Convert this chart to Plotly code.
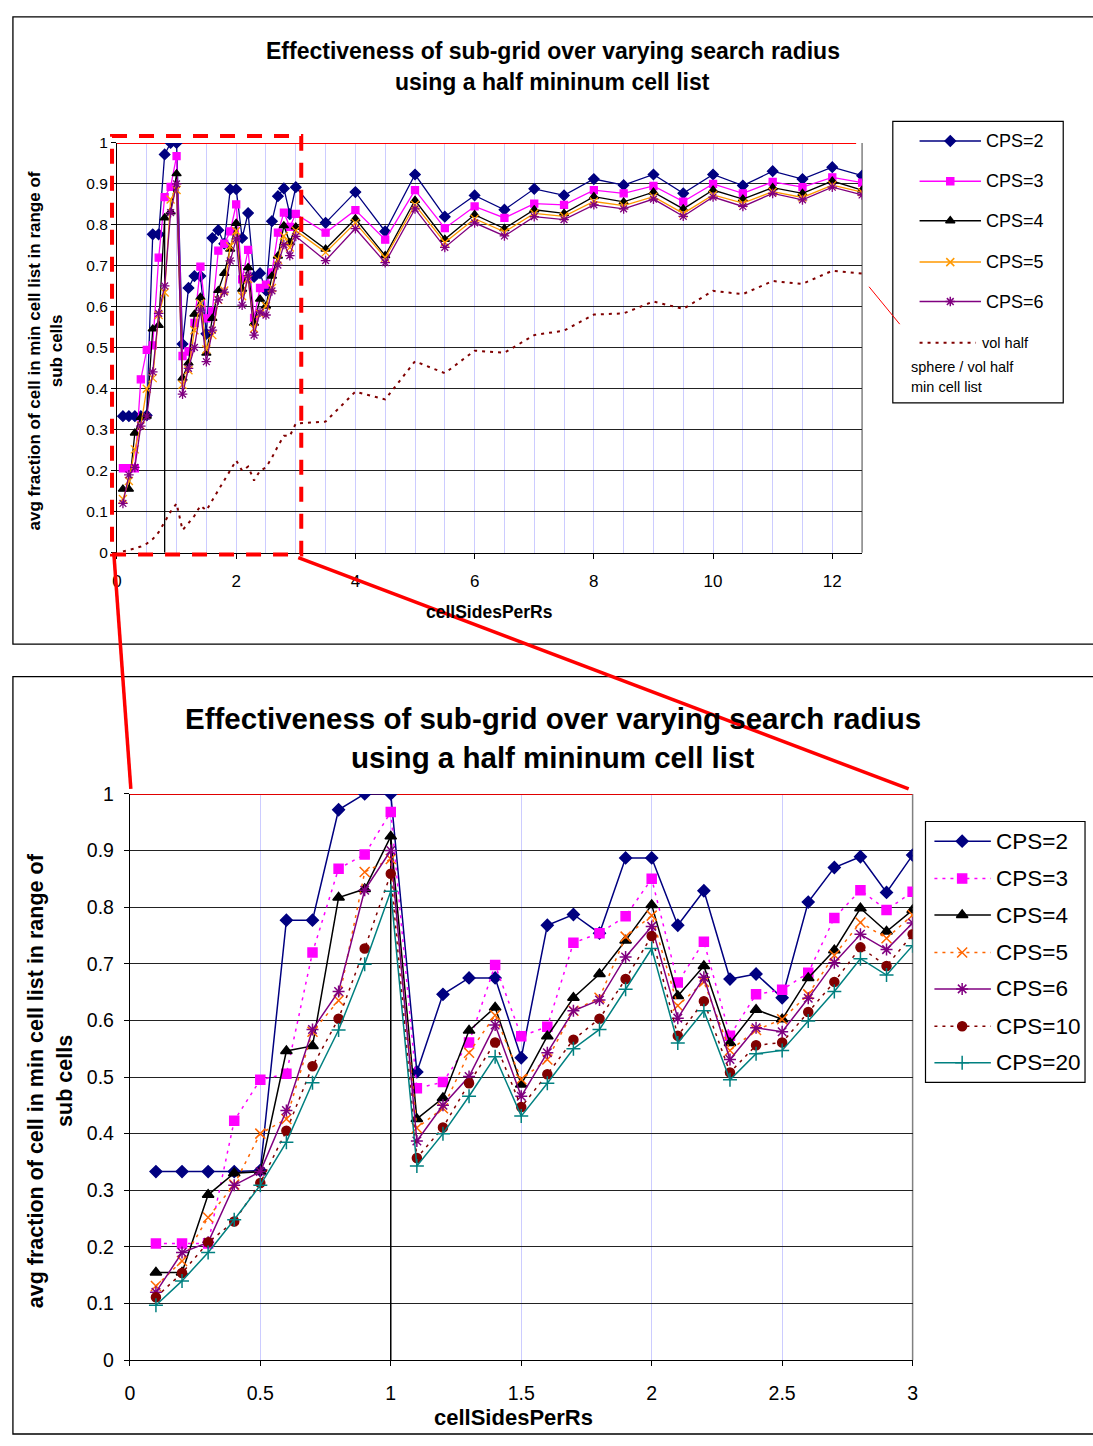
import plotly.graph_objects as go

W, H = 1093, 1446

# ---------------- data ----------------
x_fine = [0.1, 0.2, 0.3, 0.4, 0.5, 0.6, 0.7, 0.8, 0.9, 1.0,
          1.1, 1.2, 1.3, 1.4, 1.5, 1.6, 1.7, 1.8, 1.9, 2.0,
          2.1, 2.2, 2.3, 2.4, 2.5, 2.6, 2.7, 2.8, 2.9, 3.0]
x_coarse = [3.5, 4.0, 4.5, 5.0, 5.5, 6.0, 6.5, 7.0, 7.5, 8.0,
            8.5, 9.0, 9.5, 10.0, 10.5, 11.0, 11.5, 12.0, 12.5]

cps2_fine = [0.333, 0.333, 0.333, 0.333, 0.335, 0.777, 0.777, 0.972, 1.0, 1.0,
             0.509, 0.646, 0.675, 0.675, 0.534, 0.768, 0.787, 0.754, 0.887, 0.887,
             0.768, 0.829, 0.673, 0.682, 0.640, 0.809, 0.870, 0.889, 0.826, 0.892]
cps3_fine = [0.206, 0.206, 0.206, 0.423, 0.495, 0.506, 0.720, 0.868, 0.893, 0.968,
             0.480, 0.491, 0.561, 0.698, 0.572, 0.589, 0.737, 0.754, 0.784, 0.850,
             0.667, 0.739, 0.573, 0.646, 0.654, 0.684, 0.781, 0.830, 0.795, 0.827]
cps4_fine = [0.155, 0.155, 0.292, 0.330, 0.333, 0.546, 0.555, 0.817, 0.832, 0.925,
             0.426, 0.463, 0.582, 0.623, 0.487, 0.572, 0.640, 0.682, 0.741, 0.804,
             0.643, 0.696, 0.560, 0.619, 0.602, 0.675, 0.724, 0.798, 0.757, 0.795]
cps5_fine = [0.131, 0.175, 0.252, 0.310, 0.400, 0.426, 0.580, 0.635, 0.862, 0.885,
             0.410, 0.445, 0.543, 0.609, 0.496, 0.531, 0.617, 0.640, 0.748, 0.785,
             0.626, 0.668, 0.547, 0.583, 0.602, 0.646, 0.715, 0.773, 0.745, 0.786]
cps6_fine = [0.120, 0.190, 0.208, 0.309, 0.333, 0.441, 0.584, 0.651, 0.830, 0.900,
             0.387, 0.450, 0.501, 0.592, 0.466, 0.543, 0.617, 0.636, 0.712, 0.766,
             0.604, 0.676, 0.531, 0.587, 0.580, 0.639, 0.702, 0.752, 0.725, 0.772]
cps10_fine = [0.111, 0.154, 0.208, 0.245, 0.313, 0.405, 0.519, 0.603, 0.727, 0.859,
              0.357, 0.411, 0.489, 0.561, 0.447, 0.505, 0.566, 0.603, 0.673, 0.749,
              0.573, 0.634, 0.508, 0.556, 0.561, 0.615, 0.668, 0.729, 0.696, 0.752]
cps20_fine = [0.097, 0.140, 0.190, 0.248, 0.309, 0.385, 0.490, 0.583, 0.699, 0.828,
              0.343, 0.400, 0.466, 0.536, 0.431, 0.489, 0.550, 0.584, 0.655, 0.727,
              0.560, 0.617, 0.495, 0.541, 0.547, 0.599, 0.651, 0.709, 0.680, 0.732]

cps2_coarse = [0.805, 0.880, 0.784, 0.923, 0.820, 0.872, 0.837, 0.888, 0.872, 0.912,
               0.897, 0.923, 0.877, 0.923, 0.896, 0.931, 0.912, 0.941, 0.920]
cps3_coarse = [0.781, 0.836, 0.764, 0.885, 0.792, 0.845, 0.817, 0.852, 0.849, 0.885,
               0.877, 0.895, 0.857, 0.900, 0.877, 0.905, 0.892, 0.916, 0.903]
cps4_coarse = [0.741, 0.815, 0.725, 0.860, 0.765, 0.825, 0.791, 0.837, 0.828, 0.869,
               0.856, 0.880, 0.839, 0.885, 0.863, 0.891, 0.877, 0.907, 0.885]
cps5_coarse = [0.733, 0.805, 0.720, 0.849, 0.757, 0.815, 0.783, 0.828, 0.821, 0.857,
               0.847, 0.869, 0.828, 0.873, 0.853, 0.881, 0.867, 0.897, 0.880]
cps6_coarse = [0.713, 0.791, 0.708, 0.839, 0.745, 0.805, 0.773, 0.820, 0.813, 0.849,
               0.839, 0.863, 0.821, 0.868, 0.845, 0.877, 0.861, 0.892, 0.873]

vol_fine = [0.003, 0.006, 0.010, 0.015, 0.022, 0.033, 0.050, 0.075, 0.100, 0.120,
            0.055, 0.072, 0.090, 0.115, 0.103, 0.128, 0.152, 0.175, 0.198, 0.225,
            0.200, 0.210, 0.176, 0.200, 0.208, 0.232, 0.260, 0.285, 0.285, 0.315]
vol_coarse = [0.320, 0.393, 0.374, 0.467, 0.438, 0.493, 0.488, 0.531, 0.542, 0.581,
              0.584, 0.613, 0.595, 0.639, 0.631, 0.663, 0.656, 0.688, 0.681]

top_labels = ["CPS=2", "CPS=3", "CPS=4", "CPS=5", "CPS=6"]
bottom_labels = ["CPS=2", "CPS=3", "CPS=4", "CPS=5", "CPS=6", "CPS=10", "CPS=20"]
vol_label = "vol half"
vol_label_rest = ["sphere / vol half", "min cell list"]
title_lines = ["Effectiveness of sub-grid over varying search radius",
               "using a half mininum cell list"]
x_title = "cellSidesPerRs"
y_title_lines = ["avg fraction of cell in min cell list in range of", "sub cells"]
top_xticks = [0, 2, 4, 6, 8, 10, 12]

# ---------------- styles ----------------
FONT = "Arial, 'Liberation Sans', sans-serif"
top_styles = [
    dict(color="#000080", symbol="diamond", size=8, dash="solid"),
    dict(color="#FF00FF", symbol="square", size=7, dash="solid"),
    dict(color="#000000", symbol="triangle-up", size=8, dash="solid"),
    dict(color="#FF9900", symbol="x-thin-open", size=8, dash="solid"),
    dict(color="#800080", symbol="asterisk-open", size=8, dash="solid"),
]
bottom_styles = [
    dict(color="#000080", symbol="diamond", size=9, dash="solid"),
    dict(color="#FF00FF", symbol="square", size=9, dash="dot"),
    dict(color="#000000", symbol="triangle-up", size=10, dash="solid"),
    dict(color="#FF6600", symbol="x-thin-open", size=10, dash="dot"),
    dict(color="#800080", symbol="asterisk-open", size=10, dash="solid"),
    dict(color="#800000", symbol="circle", size=9, dash="dot"),
    dict(color="#008080", symbol="cross-thin-open", size=10, dash="solid"),
]


def PX(x):
    return x / W


def PY(y):
    return 1 - y / H


def mk(st, lw=1.5):
    return dict(symbol=st["symbol"], size=st["size"], color=st["color"],
                line=dict(color=st["color"], width=lw))


def dash_of(st):
    return "3px,5px" if st["dash"] == "dot" else "solid"


fig = go.Figure()

# ---------------- top chart ----------------
top_fine = [cps2_fine, cps3_fine, cps4_fine, cps5_fine, cps6_fine]
top_coarse = [cps2_coarse, cps3_coarse, cps4_coarse, cps5_coarse, cps6_coarse]
x_top = x_fine + x_coarse
for lab, f, c, st in zip(top_labels, top_fine, top_coarse, top_styles):
    fig.add_trace(go.Scatter(x=x_top, y=f + c, mode="lines+markers", name=lab,
                             line=dict(color=st["color"], width=1.3),
                             marker=mk(st, 1.3), xaxis="x", yaxis="y", showlegend=False))
fig.add_trace(go.Scatter(x=x_top, y=vol_fine + vol_coarse, mode="lines", name=vol_label,
                         line=dict(color="#800000", width=2, dash="3px,5px"),
                         xaxis="x", yaxis="y", showlegend=False))

# ---------------- bottom chart ----------------
bottom_series = [cps2_fine, cps3_fine, cps4_fine, cps5_fine, cps6_fine, cps10_fine, cps20_fine]
for lab, ys, st in zip(bottom_labels, bottom_series, bottom_styles):
    fig.add_trace(go.Scatter(x=x_fine, y=ys, mode="lines+markers", name=lab,
                             line=dict(color=st["color"], width=1.5, dash=dash_of(st)),
                             marker=mk(st, 1.5), xaxis="x2", yaxis="y2", showlegend=False))

# ---------------- legends (drawn in a pixel overlay) ----------------
top_leg_rows = [132, 173, 213, 255, 295]
for lab, st, ry in zip(top_labels, top_styles, top_leg_rows):
    fig.add_trace(go.Scatter(x=[923, 985], y=[ry, ry], mode="lines",
                             line=dict(color=st["color"], width=1.5),
                             xaxis="x3", yaxis="y3", showlegend=False, hoverinfo="skip"))
    fig.add_trace(go.Scatter(x=[954], y=[ry], mode="markers", marker=mk(st, 1.5),
                             xaxis="x3", yaxis="y3", showlegend=False, hoverinfo="skip"))
fig.add_trace(go.Scatter(x=[923, 980], y=[337, 337], mode="lines",
                         line=dict(color="#800000", width=2, dash="3px,5px"),
                         xaxis="x3", yaxis="y3", showlegend=False, hoverinfo="skip"))

bot_leg_rows = [843, 881, 918, 956, 993, 1031, 1068]
for lab, st, ry in zip(bottom_labels, bottom_styles, bot_leg_rows):
    fig.add_trace(go.Scatter(x=[938, 995], y=[ry, ry], mode="lines",
                             line=dict(color=st["color"], width=1.5, dash=dash_of(st)),
                             xaxis="x3", yaxis="y3", showlegend=False, hoverinfo="skip"))
    fig.add_trace(go.Scatter(x=[966], y=[ry], mode="markers", marker=mk(st, 1.5),
                             xaxis="x3", yaxis="y3", showlegend=False, hoverinfo="skip"))

annotations = []
for lab, ry in zip(top_labels, top_leg_rows):
    annotations.append(dict(x=PX(988), y=PY(ry), xref="paper", yref="paper", text=lab,
                            showarrow=False, xanchor="left", yanchor="middle",
                            font=dict(family=FONT, size=18, color="black")))
annotations.append(dict(x=PX(984), y=PY(337), xref="paper", yref="paper", text=vol_label,
                        showarrow=False, xanchor="left", yanchor="middle",
                        font=dict(family=FONT, size=14.5, color="black")))
for t, ry in zip(vol_label_rest, [361, 382]):
    annotations.append(dict(x=PX(912), y=PY(ry), xref="paper", yref="paper", text=t,
                            showarrow=False, xanchor="left", yanchor="middle",
                            font=dict(family=FONT, size=14.5, color="black")))
for lab, ry in zip(bottom_labels, bot_leg_rows):
    annotations.append(dict(x=PX(998), y=PY(ry), xref="paper", yref="paper", text=lab,
                            showarrow=False, xanchor="left", yanchor="middle",
                            font=dict(family=FONT, size=22.5, color="black")))

# titles
for t, ry in zip(title_lines, [41, 72]):
    annotations.append(dict(x=PX(553), y=PY(ry), xref="paper", yref="paper", text=t,
                            showarrow=False, xanchor="center", yanchor="middle",
                            font=dict(family=FONT, size=23, color="black", weight="bold")))
for t, ry in zip(title_lines, [718, 758]):
    annotations.append(dict(x=PX(553), y=PY(ry), xref="paper", yref="paper", text=t,
                            showarrow=False, xanchor="center", yanchor="middle",
                            font=dict(family=FONT, size=29.5, color="black", weight="bold")))
annotations.append(dict(x=PX(489), y=PY(610), xref="paper", yref="paper", text=x_title,
                        showarrow=False, xanchor="center", yanchor="middle",
                        font=dict(family=FONT, size=17.5, color="black", weight="bold")))
annotations.append(dict(x=PX(513), y=PY(1428), xref="paper", yref="paper", text=x_title,
                        showarrow=False, xanchor="center", yanchor="middle",
                        font=dict(family=FONT, size=22, color="black", weight="bold")))
for t, rx in zip(y_title_lines, [30, 52]):
    annotations.append(dict(x=PX(rx), y=PY(345), xref="paper", yref="paper", text=t,
                            showarrow=False, xanchor="center", yanchor="middle", textangle=-90,
                            font=dict(family=FONT, size=17, color="black", weight="bold")))
for t, rx in zip(y_title_lines, [32, 61]):
    annotations.append(dict(x=PX(rx), y=PY(1086), xref="paper", yref="paper", text=t,
                            showarrow=False, xanchor="center", yanchor="middle", textangle=-90,
                            font=dict(family=FONT, size=21.5, color="black", weight="bold")))

# ---------------- shapes ----------------
def pline(x0, y0, x1, y1, color, width, dash="solid", layer="above"):
    return dict(type="line", xref="paper", yref="paper", x0=PX(x0), y0=PY(y0), x1=PX(x1), y1=PY(y1),
                line=dict(color=color, width=width, dash=dash), layer=layer)


def prect(x0, y0, x1, y1, color, width, dash="solid"):
    return dict(type="rect", xref="paper", yref="paper", x0=PX(x0), y0=PY(y0), x1=PX(x1), y1=PY(y1),
                line=dict(color=color, width=width, dash=dash), fillcolor="rgba(0,0,0,0)", layer="above")


shapes = [
    prect(8, 6, 1110, 643, "black", 1.3),
    prect(8, 676, 1110, 1445, "black", 1.3),
    prect(896, 112, 1068, 398, "black", 1.2),
    prect(929, 823, 1090, 1088, "black", 1.2),
    # right borders of plot areas
    pline(865, 134, 865, 550, "#808080", 1.5, layer="between"),
    pline(916, 795, 916, 1370, "#808080", 1.5, layer="between"),
    # y = 1 reference lines
    dict(type="line", xref="x", yref="y", x0=0, x1=12.4, y0=1, y1=1,
         line=dict(color="red", width=2), layer="between"),
    dict(type="line", xref="x2", yref="y2", x0=0, x1=3, y0=1, y1=1,
         line=dict(color="#E00000", width=2), layer="between"),
    # stray vertical lines
    dict(type="line", xref="x", yref="y", x0=x_fine[7], x1=x_fine[7], y0=0, y1=cps4_fine[7],
         line=dict(color="black", width=1.3), layer="between"),
    dict(type="line", xref="x2", yref="y2", x0=x_fine[9], x1=x_fine[9], y0=0, y1=cps4_fine[9],
         line=dict(color="black", width=1.5), layer="between"),
    # zoom annotation
    prect(108, 127, 299, 552, "#FF0000", 4, dash="15px,12px"),
    pline(110, 553, 127, 790, "#FF0000", 3.5),
    pline(296, 555, 912, 790, "#FF0000", 3.5),
    pline(872, 280, 903, 318, "#FF0000", 1),
]

axis_common = dict(showline=True, linecolor="black", linewidth=1, ticks="outside", ticklen=5,
                   tickcolor="black", zeroline=False, fixedrange=True)

fig.update_layout(
    width=W, height=H, autosize=False,
    margin=dict(l=0, r=0, t=0, b=0),
    paper_bgcolor="white", plot_bgcolor="rgba(0,0,0,0)",
    showlegend=False,
    xaxis=dict(domain=[PX(113), PX(865)], range=[0, 12.5], anchor="y",
               tickmode="array", tickvals=top_xticks,
               showgrid=True, gridcolor="#ccccff", gridwidth=1,
               minor=dict(dtick=0.5, tick0=0, showgrid=True, gridcolor="#ccccff", gridwidth=1),
               tickfont=dict(family=FONT, size=17, color="black"), ticklabelstandoff=8,
               **axis_common),
    yaxis=dict(domain=[PY(550), PY(134)], range=[0, 1], anchor="x", dtick=0.1, tick0=0,
               showgrid=True, gridcolor="#222222", gridwidth=1,
               tickfont=dict(family=FONT, size=15.5, color="black"),
               **axis_common),
    xaxis2=dict(domain=[PX(126), PX(916)], range=[0, 3], anchor="y2", dtick=0.5, tick0=0,
                showgrid=True, gridcolor="#ccccff", gridwidth=1,
                tickfont=dict(family=FONT, size=19.5, color="black"), ticklabelstandoff=10,
                **axis_common),
    yaxis2=dict(domain=[PY(1370), PY(795)], range=[0, 1], anchor="x2", dtick=0.1, tick0=0,
                showgrid=True, gridcolor="#222222", gridwidth=1,
                tickfont=dict(family=FONT, size=19.5, color="black"), ticklabelstandoff=6,
                **axis_common),
    xaxis3=dict(domain=[0, 1], range=[0, W], anchor="y3", visible=False, fixedrange=True),
    yaxis3=dict(domain=[0, 1], range=[H, 0], anchor="x3", visible=False, fixedrange=True),
    annotations=annotations,
    shapes=shapes,
)

fig.write_html("out.html", post_script="document.body.style.margin='0';document.body.style.overflow='hidden';")
